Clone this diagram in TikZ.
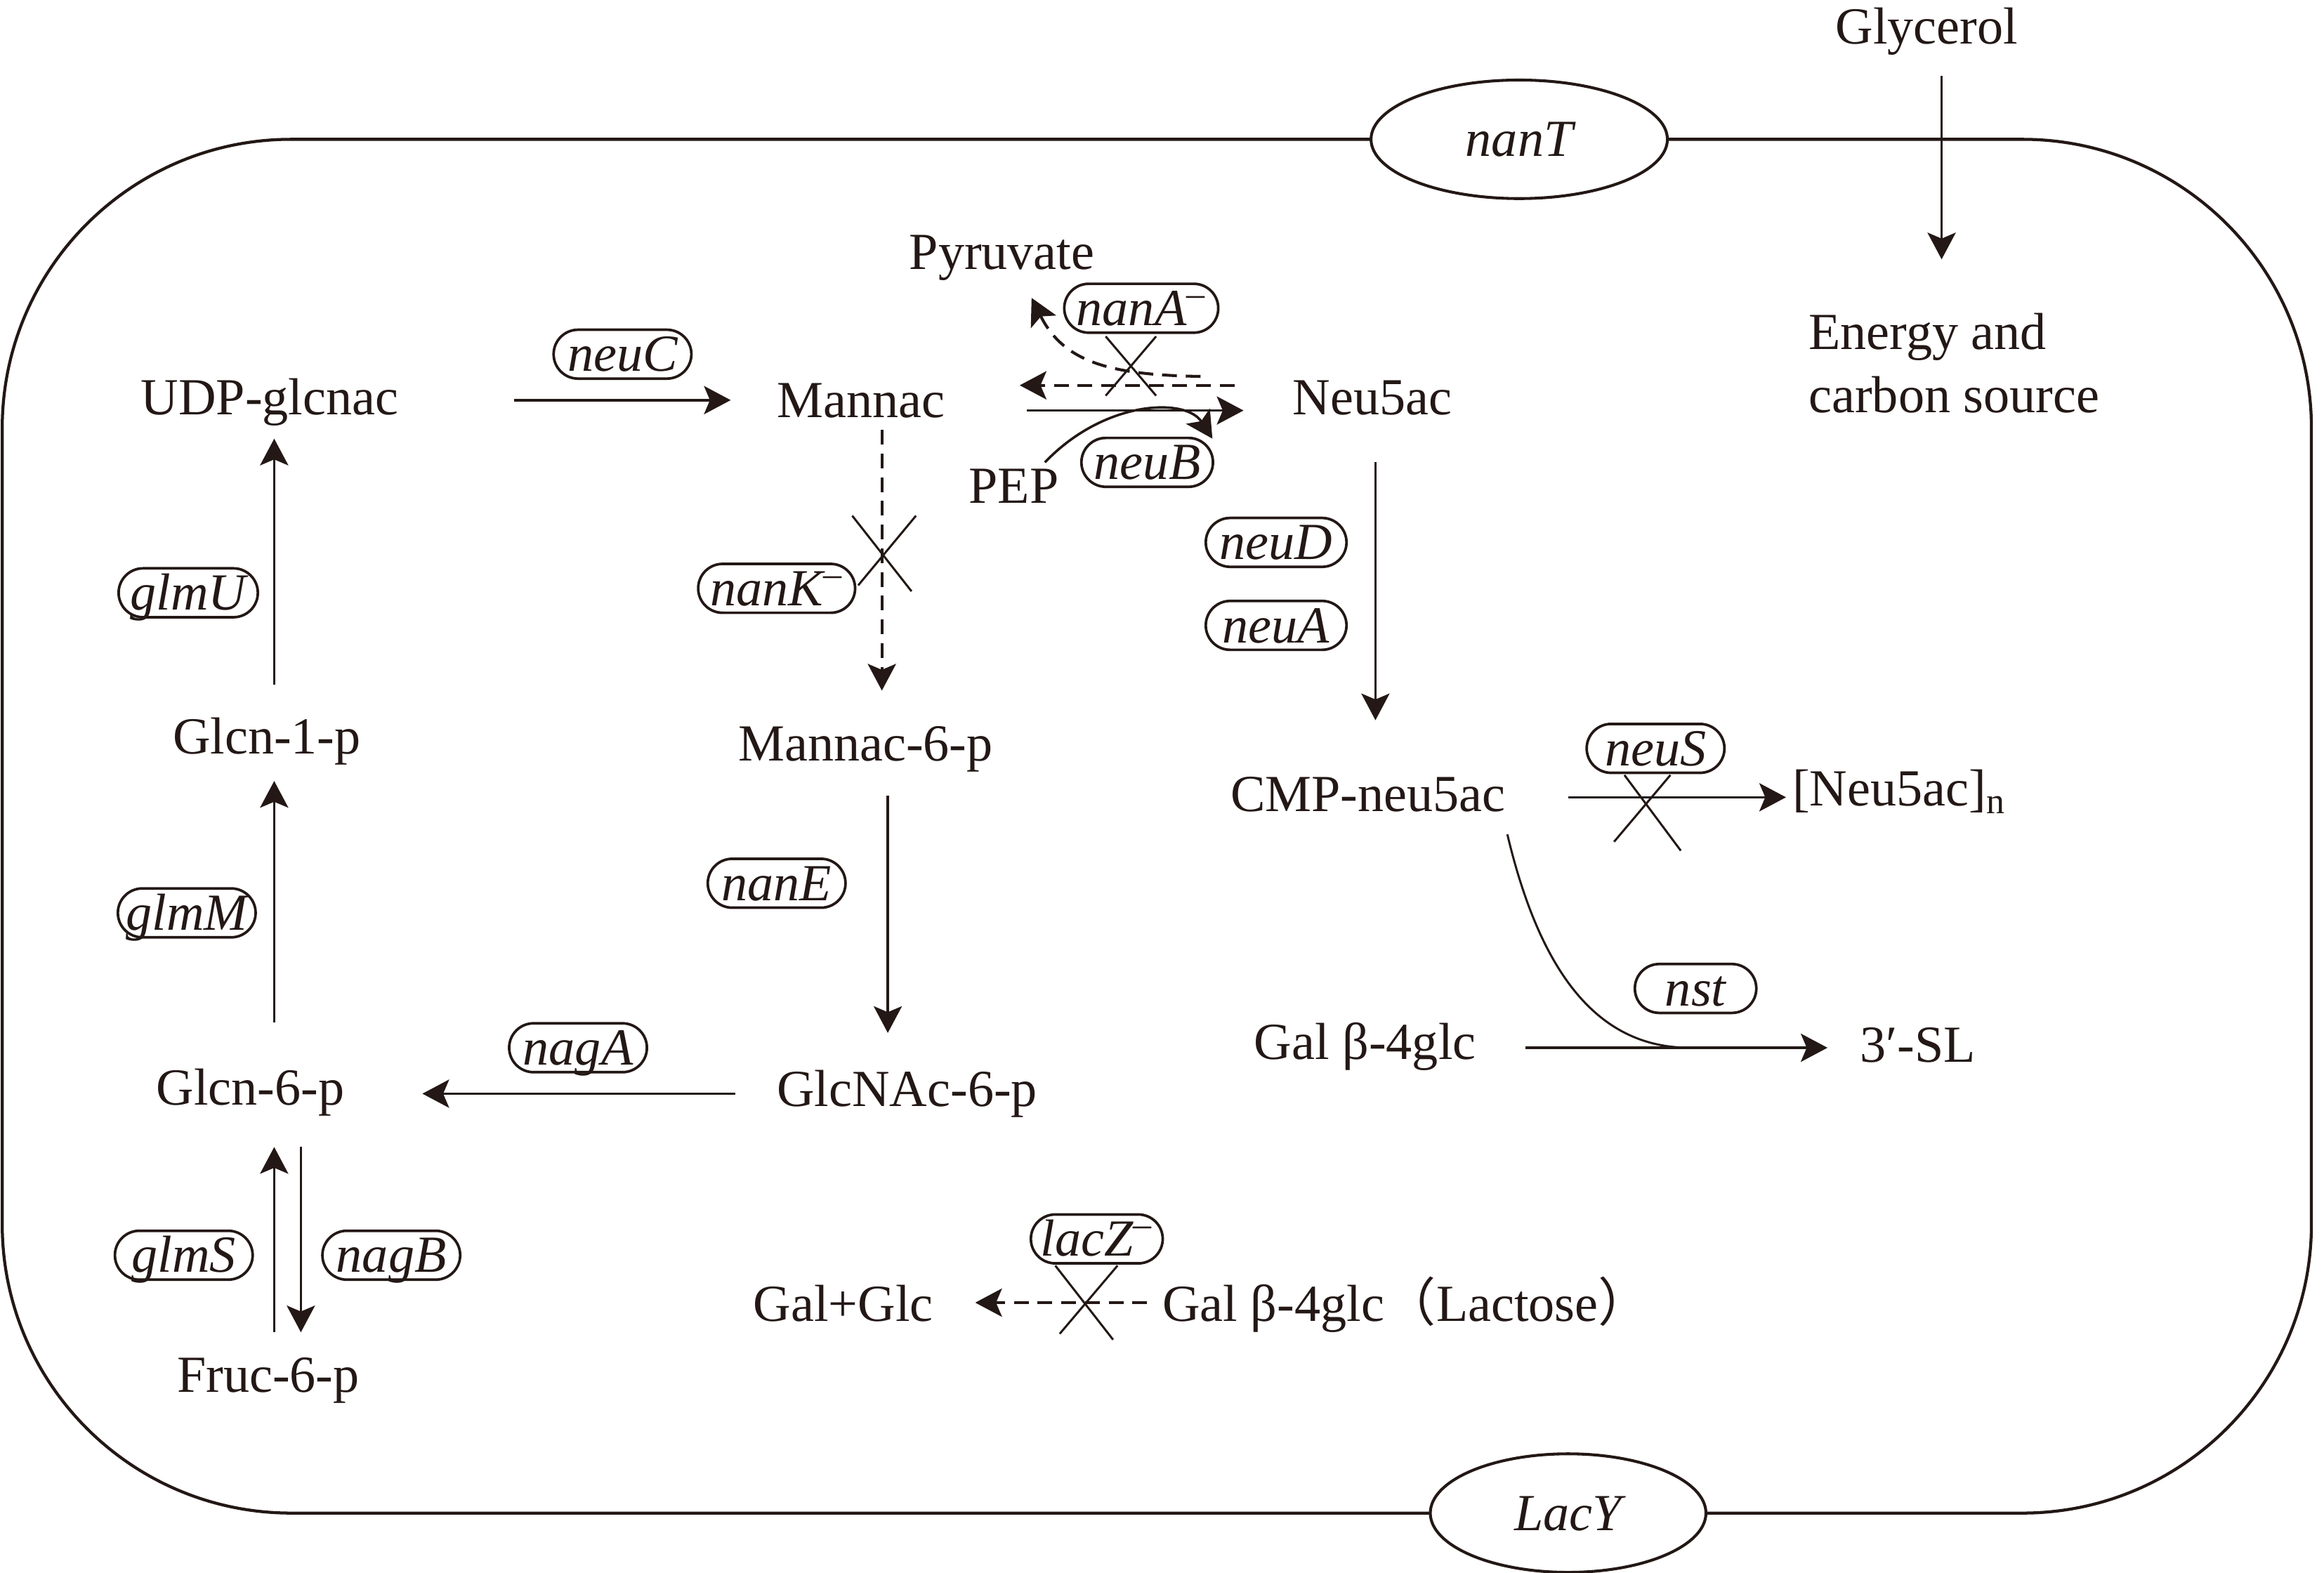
\documentclass[tikz,border=0pt]{standalone}
\usepackage{fontspec}
\setmainfont{Liberation Serif}
\newfontfamily\cjkfont{Noto Sans CJK SC}
\usetikzlibrary{arrows.meta,calc,shapes.misc,shapes.geometric}
\definecolor{ink}{HTML}{231815}
\begin{document}
\begin{tikzpicture}[x=0.02cm,y=-0.02cm,
  every node/.style={font=\fontsize{20}{24}\selectfont, text=ink},
  txt/.style={inner sep=0pt, text height=13.2pt, text depth=0pt},
  gene/.style={rounded rectangle, draw=ink, line width=1pt, inner xsep=2pt, inner ysep=0pt,
    minimum height=0.66cm, minimum width=2cm, text height=13.2pt, text depth=0pt,
    font=\fontsize{20}{24}\selectfont\itshape},
  memb/.style={ellipse, draw=ink, fill=white, line width=1.1pt, inner sep=0pt,
    text height=13.2pt, text depth=0pt, font=\fontsize{20}{24}\selectfont\itshape},
  arr/.style={draw=ink, line width=0.95pt, -{Stealth[length=0.36cm,width=0.38cm,inset=0.08cm]}},
  dsh/.style={arr, line width=1.1pt, dash pattern=on 0.2cm off 0.12cm},
  ko/.style={draw=ink, line width=0.8pt}]

\fill[white] (0,0) rectangle (1568,1061);
\useasboundingbox (0,0) rectangle (1568,1061);

% cell membrane
\draw[ink, line width=1.15pt, rounded corners=3.9cm] (1.5,94) rectangle (1559.5,1021);
\node[memb, minimum width=4cm, minimum height=1.6cm] (nanT) at (1025,94) {nanT};
\node[memb, minimum width=3.72cm, minimum height=1.6cm] (lacY) at (1058,1021) {LacY};

% metabolites
\node[txt] (glycerol) at (1300,18) {Glycerol};
\node[txt, anchor=west] (energy) at (1220,224) {Energy and};
\node[txt, anchor=west] (carbon) at (1220,267) {carbon source};
\node[txt] (udp) at (182,268) {UDP-glcnac};
\node[txt] (mannac) at (581,270) {Mannac};
\node[txt] (neu) at (926,268) {Neu5ac};
\node[txt] (pyr) at (676,170) {Pyruvate};
\node[txt] (pep) at (684,328) {PEP};
\node[txt] (glcn1) at (180,497) {Glcn-1-p};
\node[txt] (mannac6) at (584,502) {Mannac-6-p};
\node[txt] (cmp) at (923,536) {CMP-neu5ac};
\node[txt, anchor=west] (poly) at (1209,532) {[Neu5ac]\textsubscript{n}};
\node[txt] (galb) at (921,703) {Gal β-4glc};
\node[txt] (sl) at (1294,705) {3′-SL};
\node[txt] (glcnac6) at (612,735) {GlcNAc-6-p};
\node[txt] (glcn6) at (169,734) {Glcn-6-p};
\node[txt] (fruc) at (181,928) {Fruc-6-p};
\node[txt] (galglc) at (569,880) {Gal+Glc};
\node[txt, anchor=west] (lact) at (784,880) {Gal β-4glc{\cjkfont （}Lactose{\cjkfont ）}};

% genes
\node[gene] (neuC) at (420,239) {neuC};
\node[gene] (nanA) at (770,208) {nanA\textsuperscript{–}};
\node[gene, minimum width=1.76cm] (neuB) at (774,312) {neuB};
\node[gene, minimum width=2.04cm] (neuD) at (861,366) {neuD};
\node[gene, minimum width=2.04cm] (neuA) at (861,422) {neuA};
\node[gene] (nanK) at (524,397) {nanK\textsuperscript{–}};
\node[gene, minimum width=2.02cm] (glmU) at (127,400) {glmU};
\node[gene] (glmM) at (126,616) {glmM};
\node[gene] (nanE) at (524,596) {nanE};
\node[gene] (nagA) at (390,707) {nagA};
\node[gene] (neuS) at (1117,505) {neuS};
\node[gene, minimum width=1.78cm] (nst) at (1144,667) {nst};
\node[gene] (glmS) at (124,847) {glmS};
\node[gene] (nagB) at (264,847) {nagB};
\node[gene, minimum width=1.92cm] (lacZ) at (740,836) {lacZ\textsuperscript{–}};

% reactions
\draw[arr] ($(glycerol)+(10,33)$) -- ($(energy.west)+(90,-49)$);
\draw[arr] ($(udp)+(165,2)$) -- ($(mannac)+(-88,0)$);
\draw[arr] ($(mannac)+(112,7)$) -- ($(neu)+(-87,9)$);
\draw[dsh] ($(neu)+(-93,-8)$) -- ($(mannac)+(107,-10)$);
\draw[dsh] ($(neu)+(-116,-14)$) .. controls ($(neu)+(-176,-15)$) and ($(neu)+(-208,-23)$) .. ($(pyr)+(20,31)$);
\draw[arr] ($(pep)+(21,-16)$) .. controls ($(pep)+(61,-58)$) and ($(pep)+(116,-60)$) .. ($(neu)+(-108,28)$);
\draw[ko] ($(nanA)+(-24,19)$) -- ($(nanA)+(10,59)$);
\draw[ko] ($(nanA)+(10,19)$) -- ($(nanA)+(-24,59)$);

\draw[dsh] ($(mannac)+(14,20)$) -- ($(mannac6)+(11,-36)$);
\draw[ko] ($(nanK)+(51,-49)$) -- ($(nanK)+(91,2)$);
\draw[ko] ($(nanK)+(94,-49)$) -- ($(nanK)+(55,-2)$);

\draw[arr] ($(neu)+(2,44)$) -- ($(cmp)+(5,-50)$);
\draw[arr] ($(mannac6)+(15,35)$) -- ($(glcnac6)+(-13,-38)$);
\draw[arr] ($(glcnac6)+(-116,3)$) -- ($(glcn6)+(116,4)$);
\draw[arr] ($(glcn6)+(16,-44)$) -- ($(glcn1)+(5,30)$);
\draw[arr] ($(glcn1)+(5,-35)$) -- ($(udp)+(3,28)$);
\draw[arr] ($(glcn6)+(34,40)$) -- ($(fruc)+(22,-29)$);
\draw[arr] ($(fruc)+(4,-29)$) -- ($(glcn6)+(16,40)$);

\draw[arr] ($(cmp)+(135,2)$) -- ($(poly.west)+(-4,6)$);
\draw[ko] ($(neuS)+(-21,18)$) -- ($(neuS)+(17,69)$);
\draw[ko] ($(neuS)+(10,18)$) -- ($(neuS)+(-28,63)$);

\draw[arr] ($(galb)+(108,4)$) -- ($(sl)+(-61,2)$);
\draw[ko] ($(cmp)+(94,27)$) .. controls ($(cmp)+(117,124)$) and ($(cmp)+(157,171)$) .. ($(sl)+(-154,2)$);

\draw[dsh] ($(lact.west)+(-10,-1)$) -- ($(galglc)+(89,-1)$);
\draw[ko] ($(lacZ)+(-28,18)$) -- ($(lacZ)+(11,68)$);
\draw[ko] ($(lacZ)+(14,18)$) -- ($(lacZ)+(-25,64)$);
\end{tikzpicture}
\end{document}
